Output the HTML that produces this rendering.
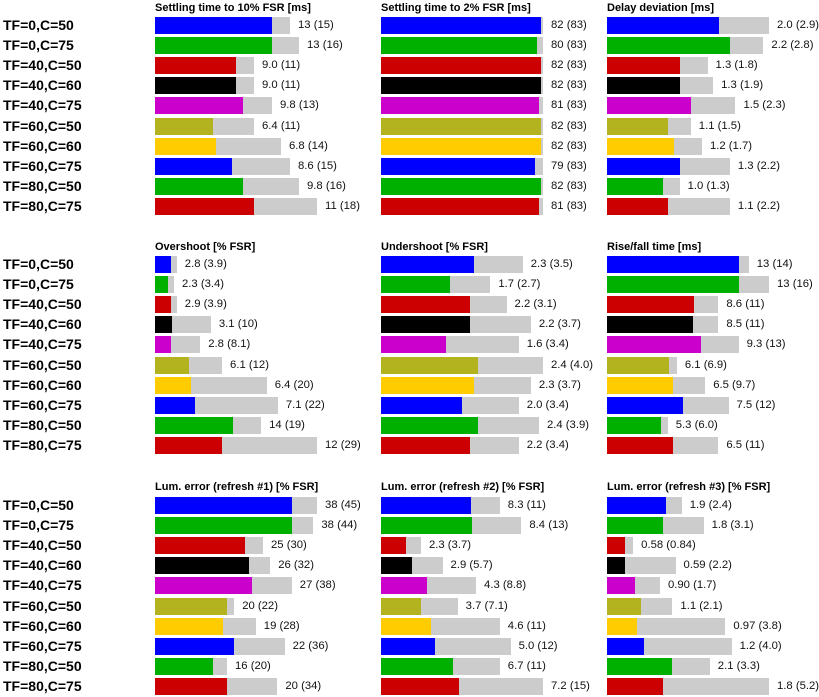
<!DOCTYPE html>
<html><head><meta charset="utf-8"><style>
body{margin:0;width:819px;height:697px;background:#fff;position:relative;overflow:hidden;font-family:"Liberation Sans",sans-serif}
div{position:absolute}
.l{font-weight:bold;font-size:14px;left:3px;line-height:17px}
.t{font-weight:bold;font-size:11px;line-height:13px;white-space:nowrap}
.v{font-size:11.3px;line-height:17px;color:#111;white-space:nowrap}
</style></head><body>
<script>
const names=["TF=0,C=50","TF=0,C=75","TF=40,C=50","TF=40,C=60","TF=40,C=75","TF=60,C=50","TF=60,C=60","TF=60,C=75","TF=80,C=50","TF=80,C=75"];
const cols=["#0000ff","#00b000","#cc0000","#000000","#cc00cc","#b3b320","#ffcc00","#0000ff","#00b000","#cc0000"];
const P=[
["Settling time to 10% FSR [ms]",[["13","15"],["13","16"],["9.0","11"],["9.0","11"],["9.8","13"],["6.4","11"],["6.8","14"],["8.6","15"],["9.8","16"],["11","18"]]],
["Settling time to 2% FSR [ms]",[["82","83"],["80","83"],["82","83"],["82","83"],["81","83"],["82","83"],["82","83"],["79","83"],["82","83"],["81","83"]]],
["Delay deviation [ms]",[["2.0","2.9"],["2.2","2.8"],["1.3","1.8"],["1.3","1.9"],["1.5","2.3"],["1.1","1.5"],["1.2","1.7"],["1.3","2.2"],["1.0","1.3"],["1.1","2.2"]]],
["Overshoot [% FSR]",[["2.8","3.9"],["2.3","3.4"],["2.9","3.9"],["3.1","10"],["2.8","8.1"],["6.1","12"],["6.4","20"],["7.1","22"],["14","19"],["12","29"]]],
["Undershoot [% FSR]",[["2.3","3.5"],["1.7","2.7"],["2.2","3.1"],["2.2","3.7"],["1.6","3.4"],["2.4","4.0"],["2.3","3.7"],["2.0","3.4"],["2.4","3.9"],["2.2","3.4"]]],
["Rise/fall time [ms]",[["13","14"],["13","16"],["8.6","11"],["8.5","11"],["9.3","13"],["6.1","6.9"],["6.5","9.7"],["7.5","12"],["5.3","6.0"],["6.5","11"]]],
["Lum. error (refresh #1) [% FSR]",[["38","45"],["38","44"],["25","30"],["26","32"],["27","38"],["20","22"],["19","28"],["22","36"],["16","20"],["20","34"]]],
["Lum. error (refresh #2) [% FSR]",[["8.3","11"],["8.4","13"],["2.3","3.7"],["2.9","5.7"],["4.3","8.8"],["3.7","7.1"],["4.6","11"],["5.0","12"],["6.7","11"],["7.2","15"]]],
["Lum. error (refresh #3) [% FSR]",[["1.9","2.4"],["1.8","3.1"],["0.58","0.84"],["0.59","2.2"],["0.90","1.7"],["1.1","2.1"],["0.97","3.8"],["1.2","4.0"],["2.1","3.3"],["1.8","5.2"]]]];
const X=[155,381,607],Y=[17,256,497],TY=[2,241,481];
let h="";
for(let r=0;r<3;r++){
 for(let i=0;i<10;i++)h+=`<div class="l" style="top:${Y[r]+i*20.1}px">${names[i]}</div>`;
 for(let c=0;c<3;c++){
  const [title,d]=P[r*3+c];
  const mx=Math.max(...d.map(e=>parseFloat(e[1])));
  h+=`<div class="t" style="left:${X[c]}px;top:${TY[r]}px">${title}</div>`;
  d.forEach((e,i)=>{
   const y=Y[r]+i*20.1,g=parseFloat(e[1])/mx*162,v=parseFloat(e[0])/mx*162;
   h+=`<div style="left:${X[c]}px;top:${y}px;width:${g}px;height:17px;background:#cccccc"></div>`;
   h+=`<div style="left:${X[c]}px;top:${y}px;width:${v}px;height:17px;background:${cols[i]}"></div>`;
   h+=`<div class="v" style="left:${X[c]+g+8}px;top:${y}px">${e[0]} (${e[1]})</div>`;
  });
 }
}
document.body.insertAdjacentHTML("beforeend",h);
</script>
</body></html>
